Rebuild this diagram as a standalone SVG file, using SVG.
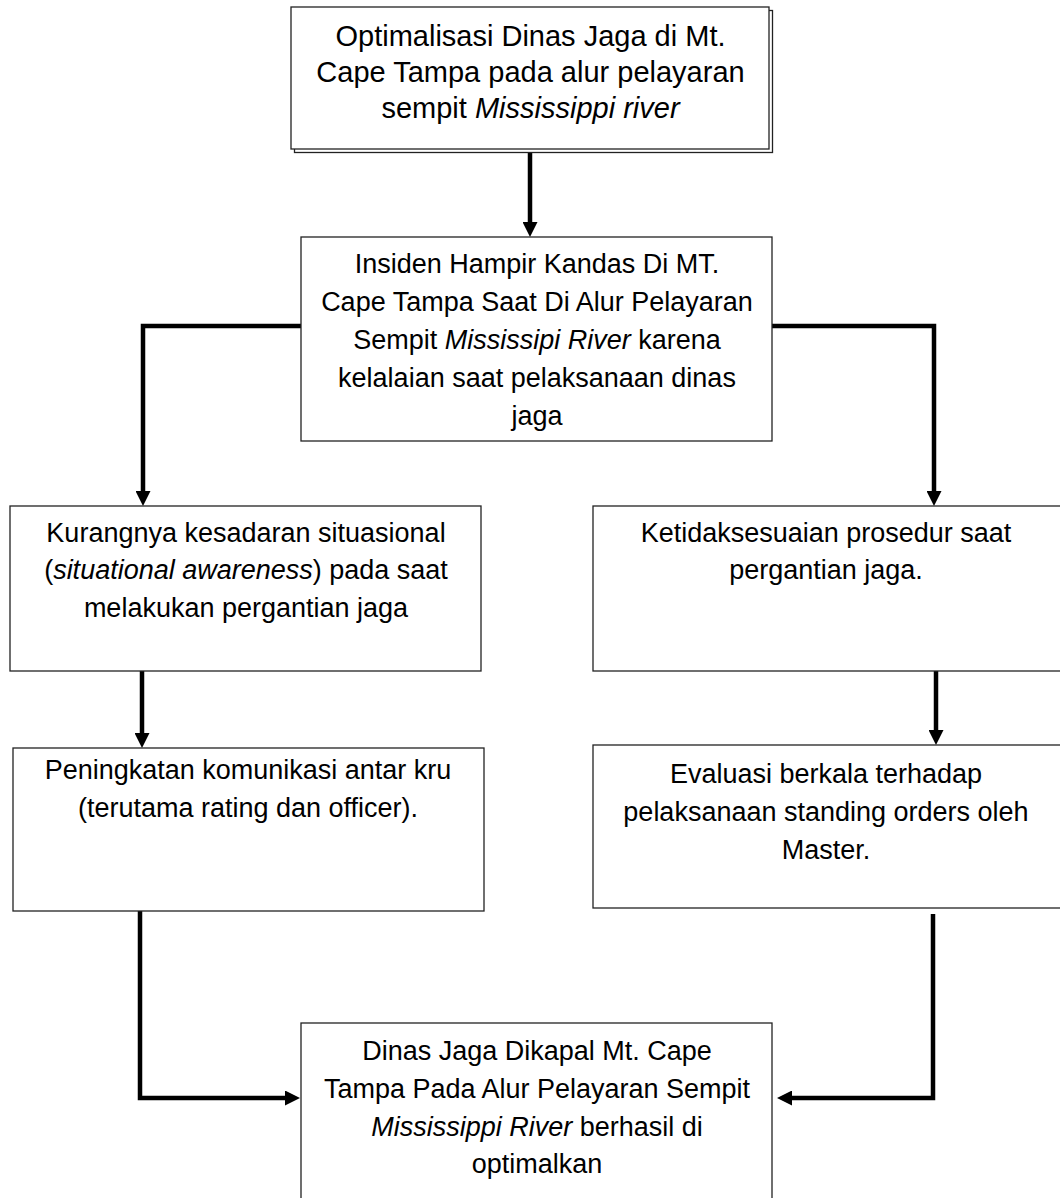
<svg xmlns="http://www.w3.org/2000/svg" width="1060" height="1198" viewBox="0 0 1060 1198">
<style>
.box{fill:#fff;stroke:#222;stroke-width:1.3}
.shadow{fill:#fff;stroke:#222;stroke-width:1.3}
.t{font-family:"Liberation Sans",Arial,sans-serif;font-size:27px;fill:#000;text-anchor:middle}
.big{font-size:29px}
.i{font-style:italic}
.c{fill:none;stroke:#000;stroke-width:4.5;stroke-linejoin:miter}
</style>
<defs>
<marker id="ah" viewBox="0 0 15 15" refX="0" refY="7.5" markerWidth="15" markerHeight="15" markerUnits="userSpaceOnUse" orient="auto">
<path d="M0,0 L15,7.5 L0,15 z" fill="#000"/>
</marker>
</defs>
<g id="connectors">
<path class="c" d="M530,152 V222" marker-end="url(#ah)"/>
<path class="c" d="M301,326 H143 V491" marker-end="url(#ah)"/>
<path class="c" d="M772,326 H934 V491" marker-end="url(#ah)"/>
<path class="c" d="M142,671 V733" marker-end="url(#ah)"/>
<path class="c" d="M936,671 V730" marker-end="url(#ah)"/>
<path class="c" d="M140,908 V1098 H285" marker-end="url(#ah)"/>
<path class="c" d="M933,914 V1098 H792" marker-end="url(#ah)"/>
</g>
<g id="n1">
<rect class="shadow" x="294.5" y="10.5" width="478" height="142"/>
<rect class="box" x="291" y="7" width="478" height="142"/>
<text class="t big" x="530.5" y="46">Optimalisasi Dinas Jaga di Mt.</text>
<text class="t big" x="530.5" y="82">Cape Tampa pada alur pelayaran</text>
<text class="t big" x="530.5" y="118">sempit <tspan class="i">Mississippi river</tspan></text>
</g>
<g id="n2">
<rect class="box" x="301" y="237" width="471" height="204"/>
<text class="t" x="537" y="273">Insiden Hampir Kandas Di MT.</text>
<text class="t" x="537" y="311">Cape Tampa Saat Di Alur Pelayaran</text>
<text class="t" x="537" y="349">Sempit <tspan class="i">Mississipi River</tspan> karena</text>
<text class="t" x="537" y="387">kelalaian saat pelaksanaan dinas</text>
<text class="t" x="537" y="425">jaga</text>
</g>
<g id="n3">
<rect class="box" x="10" y="506" width="471" height="165"/>
<text class="t" x="246" y="542">Kurangnya kesadaran situasional</text>
<text class="t" x="246" y="579">(<tspan class="i">situational awareness</tspan>) pada saat</text>
<text class="t" x="246" y="617">melakukan pergantian jaga</text>
</g>
<g id="n4">
<rect class="box" x="593" y="506" width="475" height="165"/>
<text class="t" x="826" y="542">Ketidaksesuaian prosedur saat</text>
<text class="t" x="826" y="579">pergantian jaga.</text>
</g>
<g id="n5">
<rect class="box" x="13" y="748" width="471" height="163"/>
<text class="t" x="248" y="779">Peningkatan komunikasi antar kru</text>
<text class="t" x="248" y="817">(terutama rating dan officer).</text>
</g>
<g id="n6">
<rect class="box" x="593" y="745" width="475" height="163"/>
<text class="t" x="826" y="783">Evaluasi berkala terhadap</text>
<text class="t" x="826" y="821">pelaksanaan standing orders oleh</text>
<text class="t" x="826" y="859">Master.</text>
</g>
<g id="n7">
<rect class="box" x="301" y="1023" width="471" height="200"/>
<text class="t" x="537" y="1060">Dinas Jaga Dikapal Mt. Cape</text>
<text class="t" x="537" y="1098">Tampa Pada Alur Pelayaran Sempit</text>
<text class="t" x="537" y="1136"><tspan class="i">Mississippi River</tspan> berhasil di</text>
<text class="t" x="537" y="1173">optimalkan</text>
</g>
</svg>
